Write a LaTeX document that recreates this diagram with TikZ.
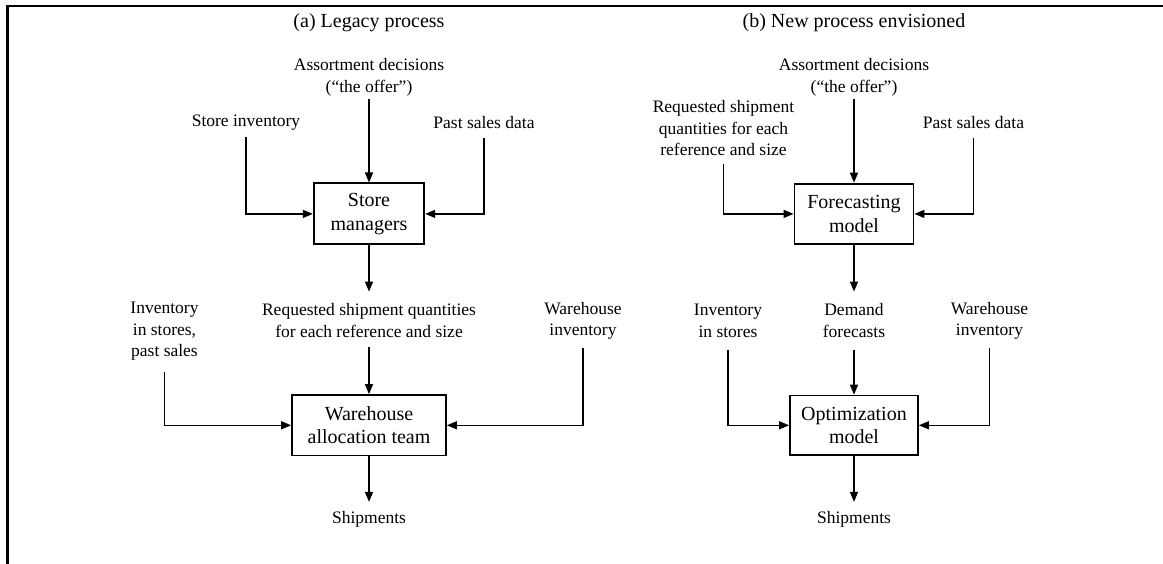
\documentclass[tikz,border=0pt]{standalone}
\usepackage{fontspec}
\setmainfont{Liberation Serif}
\usetikzlibrary{arrows.meta}
\begin{document}
\begin{tikzpicture}[x=1pt,y=-1pt,
  lbl/.style={align=center,inner sep=0pt,font=\fontsize{17.5}{21.7}\selectfont},
  box/.style={draw,line width=1.8pt,align=center,inner sep=0pt,font=\fontsize{20}{23.3}\selectfont},
  ttl/.style={inner sep=0pt,font=\fontsize{20}{24}\selectfont},
  conn/.style={line width=1.4pt,-{Triangle[length=10pt,width=8pt]}},
  frame/.style={line width=2.5pt}]
\useasboundingbox (0,0) rectangle (1163,564);
\draw[frame] (7.5,564) -- (7.5,6) -- (1163,6);

% ---------- (a) Legacy process ----------
\node[ttl] (ta) at (369,23) {(a) Legacy process};
\node[lbl] (ad1) at (369,77.5) {Assortment decisions\\(“the offer”)};
\node[lbl] (si) at (246,122.7) {Store inventory};
\node[lbl] (ps1) at (484,122.7) {Past sales data};
\node[box,minimum width=110.6pt,minimum height=61pt] (sm) at (369,213.9) {Store\\managers};
\node[lbl] (rq) at (369,320.8) {Requested shipment quantities\\for each reference and size};
\node[lbl] (inv1) at (164.5,331.4) {Inventory\\in stores,\\past sales};
\node[lbl] (wi1) at (583,320.8) {Warehouse\\inventory};
\node[box,minimum width=154pt,minimum height=60.5pt] (wat) at (369,425.3) {Warehouse\\allocation team};
\node[lbl] (sh1) at (369,519) {Shipments};

\draw[conn,shorten <=3pt] (ad1.south) -- (sm.north);
\draw[conn,shorten <=6.5pt] (si.south) |- (sm.west);
\draw[conn,shorten <=9pt] (ps1.south) |- (sm.east);
\draw[conn,shorten >=12pt] (sm.south) -- (rq.north);
\draw[conn,shorten <=9pt] (rq.south) -- (wat.north);
\draw[conn,shorten <=11pt] (inv1.south) |- (wat.west);
\draw[conn,shorten <=8pt] (wi1.south) |- (wat.east);
\draw[conn,shorten >=9pt] (wat.south) -- (sh1.north);

% ---------- (b) New process envisioned ----------
\node[ttl] (tb) at (854,23) {(b) New process envisioned};
\node[lbl] (ad2) at (854,77.5) {Assortment decisions\\(“the offer”)};
\node[lbl] (rq2) at (723.5,128.3) {Requested shipment\\quantities for each\\reference and size};
\node[lbl] (ps2) at (973.5,122.7) {Past sales data};
\node[box,minimum width=119pt,minimum height=60.5pt] (fm) at (854,213.9) {Forecasting\\model};
\node[lbl] (inv2) at (728,320.8) {Inventory\\in stores};
\node[lbl] (df) at (854,320.8) {Demand\\forecasts};
\node[lbl] (wi2) at (989.5,320.8) {Warehouse\\inventory};
\node[box,minimum width=128pt,minimum height=59.5pt] (om) at (854,425.3) {Optimization\\model};
\node[lbl] (sh2) at (854,519) {Shipments};

\draw[conn,shorten <=3pt] (ad2.south) -- (fm.north);
\draw[conn,shorten <=8pt] (rq2.south) |- (fm.west);
\draw[conn,shorten <=9pt] (ps2.south) |- (fm.east);
\draw[conn,shorten >=12pt] (fm.south) -- (df.north);
\draw[conn,shorten <=12pt] (df.south) -- (om.north);
\draw[conn,shorten <=12pt] (inv2.south) |- (om.west);
\draw[conn,shorten <=8pt] (wi2.south) |- (om.east);
\draw[conn,shorten >=9pt] (om.south) -- (sh2.north);
\end{tikzpicture}
\end{document}
